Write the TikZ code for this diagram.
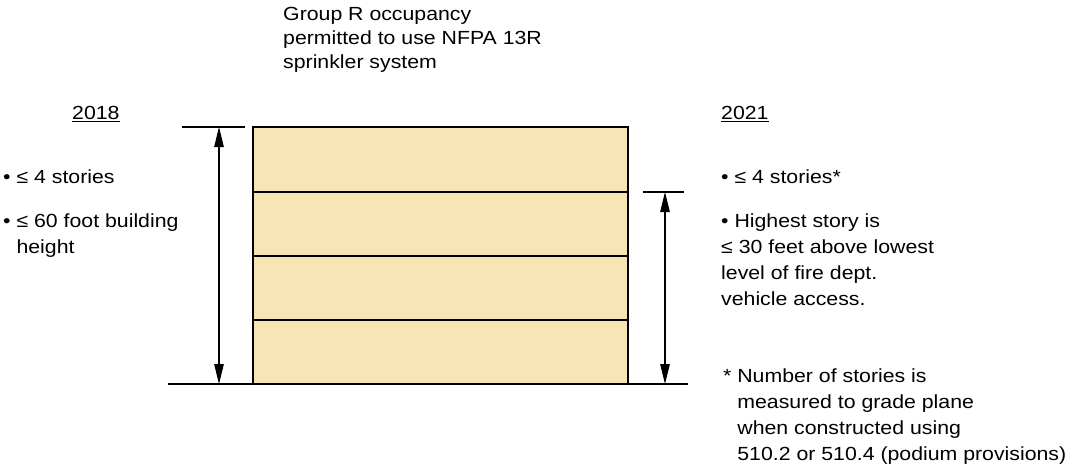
\documentclass[tikz,border=0pt]{standalone}
\usepackage{fontspec}
\setmainfont{Liberation Sans}[FakeStretch=1.12]
\usetikzlibrary{arrows.meta,positioning,calc}
\definecolor{storyfill}{HTML}{F8E5B5}

\begin{document}
\begin{tikzpicture}[x=1pt,y=-1pt,
  label/.style={anchor=north west, align=left, inner sep=0pt, font=\fontsize{19}{26}\selectfont},
  caption/.style={label, font=\fontsize{19}{24}\selectfont},
  story/.style={draw=black, fill=storyfill, line width=1.2pt},
  edge/.style={black, line width=1.2pt},
  dimen/.style={black, line width=1.2pt, {Triangle[length=20pt,width=9.5pt]}-{Triangle[length=20pt,width=9.5pt]}}
]
\useasboundingbox (0,0) rectangle (1070,468);

% ---- building ----
\foreach \ya/\yb in {127/192,192/256,256/320,320/384}
  \draw[story] (253,\ya) rectangle (628,\yb);

% ---- ground and dimension lines ----
\coordinate (groundL) at (168,384);
\coordinate (groundR) at (688,384);
\draw[edge] (groundL) -- (groundR);

\coordinate (tickL1) at (182,127);
\coordinate (tickL2) at (245,127);
\draw[edge] (tickL1) -- (tickL2);
\coordinate (dimLtop) at (219,127);
\coordinate (dimLbot) at (219,384);
\draw[dimen] (dimLtop) -- (dimLbot);

\coordinate (tickR1) at (643,192);
\coordinate (tickR2) at (684,192);
\draw[edge] (tickR1) -- (tickR2);
\coordinate (dimRtop) at (665,192);
\coordinate (dimRbot) at (665,384);
\draw[dimen] (dimRtop) -- (dimRbot);

% ---- caption ----
\node[caption] (scope) at (283,7) {Group R occupancy\\permitted to use NFPA 13R\\sprinkler system};

% ---- 2018 ----
\node[label] (yr18) at (72,106) {\underline{2018}};
\node[label] (old1) at (3,169.5) {• ≤ 4 stories};
\node[label] (old2) at (3,214) {• ≤ 60 foot building\\\phantom{• }height};

% ---- 2021 ----
\node[label] (yr21) at (721,106) {\underline{2021}};
\node[label] (new1) at (721,169.5) {• ≤ 4 stories*};
\node[label] (new2) at (721,214) {• Highest story is\\≤ 30 feet above lowest\\level of fire dept.\\vehicle access.};
\node[label] (fnote) at (723,369) {* Number of stories is\\\phantom{* }measured to grade plane\\\phantom{* }when constructed using\\\phantom{* }510.2 or 510.4 (podium provisions)};

\end{tikzpicture}
\end{document}
